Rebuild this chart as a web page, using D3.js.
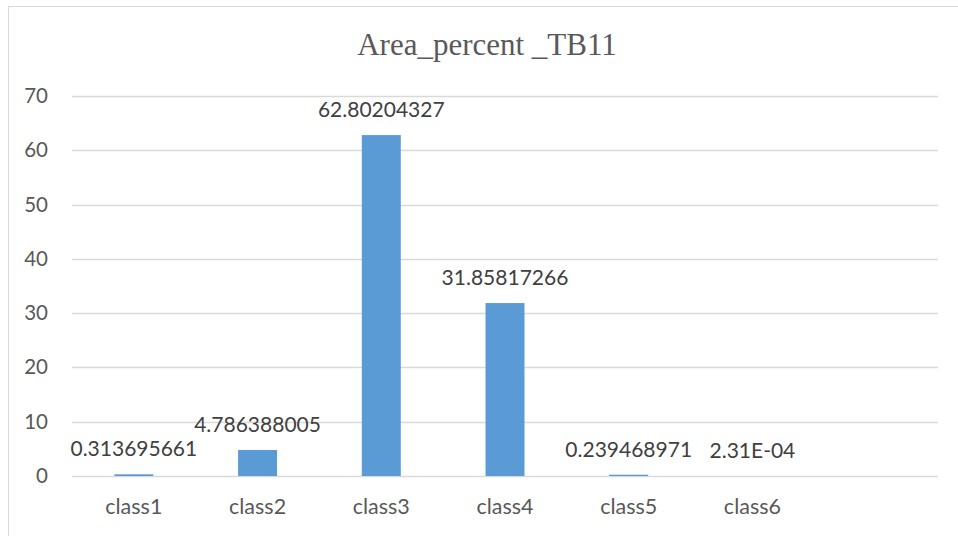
<!DOCTYPE html>
<html>
<head>
<meta charset="utf-8">
<script src="https://cdn.jsdelivr.net/npm/d3@7"></script>
<style>
  body { margin: 0; background: #fff; }
  svg { display: block; }
</style>
</head>
<body>
<svg></svg>
<script>
// 데이터
const categories = ['class1', 'class2', 'class3', 'class4', 'class5', 'class6', ''];
const values = [0.313695661, 4.786388005, 62.80204327, 31.85817266, 0.239468971, 0.000231, null];
const valueLabels = ['0.313695661', '4.786388005', '62.80204327', '31.85817266', '0.239468971', '2.31E-04', ''];
const yTicks = [0, 10, 20, 30, 40, 50, 60, 70];
const title = 'Area_percent _TB11';

const width = 958;
const height = 536;
const margin = { top: 96, right: 20, bottom: 60, left: 72 };

const svg = d3.select('svg').attr('width', width).attr('height', height);

// 바깥 테두리
svg.append('rect')
  .attr('x', 8.5).attr('y', 6.5)
  .attr('width', width + 10).attr('height', height + 10)
  .attr('fill', 'none')
  .attr('stroke', '#d9d9d9');

const x = d3.scaleBand()
  .domain(categories)
  .range([margin.left, width - margin.right])
  .paddingInner(0.685)
  .paddingOuter(0.3425);

const y = d3.scaleLinear()
  .domain([0, 70])
  .range([height - margin.bottom, margin.top]);

// 격자선
svg.append('g')
  .selectAll('line')
  .data(yTicks)
  .enter()
  .append('line')
  .attr('x1', margin.left)
  .attr('x2', width - margin.right)
  .attr('y1', (d) => Math.round(y(d)) + 0.5)
  .attr('y2', (d) => Math.round(y(d)) + 0.5)
  .attr('stroke', '#d9d9d9')
  .attr('stroke-width', 1.5);

// y축 라벨
svg.append('g')
  .selectAll('text')
  .data(yTicks)
  .enter()
  .append('text')
  .attr('x', 48)
  .attr('y', (d) => y(d) + 7)
  .attr('text-anchor', 'end')
  .attr('font-family', 'Lato, sans-serif')
  .attr('font-size', 20.5)
  .attr('fill', '#595959')
  .text((d) => d);

const data = categories.map((c, i) => ({ name: c, value: values[i], label: valueLabels[i] }))
  .filter((d) => d.value !== null);

// 막대
svg.append('g')
  .selectAll('rect')
  .data(data)
  .enter()
  .append('rect')
  .attr('x', (d) => x(d.name))
  .attr('width', x.bandwidth())
  .attr('y', (d) => y(d.value))
  .attr('height', (d) => y(0) - y(d.value))
  .attr('fill', '#5b9bd5');

// 값 라벨
svg.append('g')
  .selectAll('text')
  .data(data)
  .enter()
  .append('text')
  .attr('x', (d) => x(d.name) + x.bandwidth() / 2)
  .attr('y', (d) => y(d.value) - 18)
  .attr('text-anchor', 'middle')
  .attr('font-family', 'Lato, sans-serif')
  .attr('font-size', 21)
  .attr('fill', '#404040')
  .text((d) => d.label);

// x축 라벨
svg.append('g')
  .selectAll('text')
  .data(categories)
  .enter()
  .append('text')
  .attr('x', (d) => x(d) + x.bandwidth() / 2)
  .attr('y', 514)
  .attr('text-anchor', 'middle')
  .attr('font-family', 'Lato, sans-serif')
  .attr('font-size', 21.5)
  .attr('fill', '#595959')
  .text((d) => d);

// 제목
svg.append('text')
  .attr('x', 487)
  .attr('y', 55)
  .attr('text-anchor', 'middle')
  .attr('font-family', '"Liberation Serif", "Times New Roman", serif')
  .attr('font-size', 31)
  .attr('fill', '#595959')
  .text(title);
</script>
</body>
</html>
